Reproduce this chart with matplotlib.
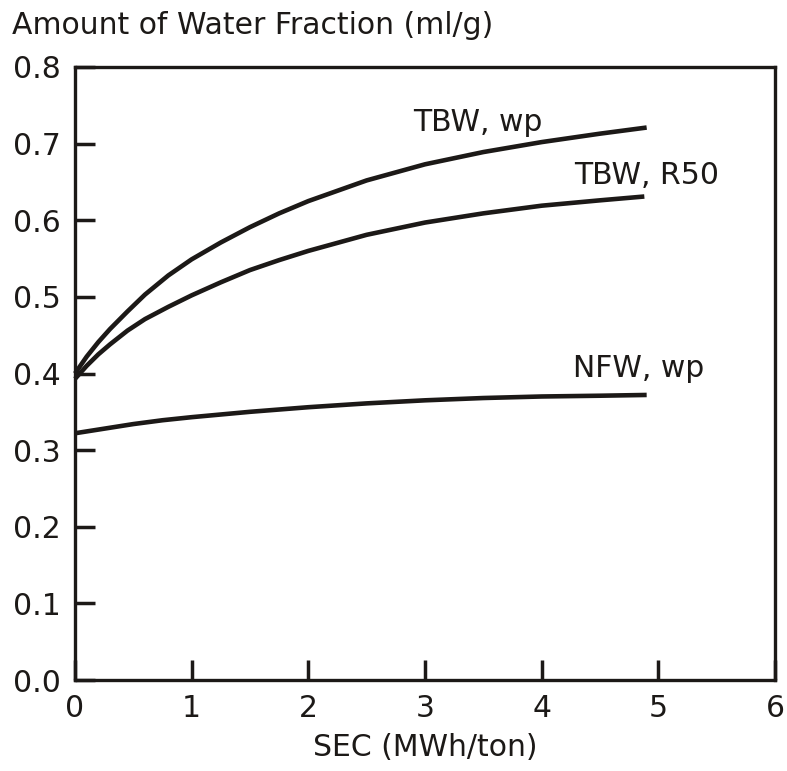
import matplotlib
matplotlib.use("Agg")
import matplotlib.pyplot as plt

# Data
x_tbw_wp = [0, 0.1, 0.2, 0.3, 0.45, 0.6, 0.8, 1.0, 1.25, 1.5, 1.75, 2, 2.5, 3, 3.5, 4, 4.5, 4.9]
y_tbw_wp = [0.400, 0.422, 0.441, 0.458, 0.481, 0.503, 0.528, 0.549, 0.571, 0.591, 0.609,
            0.625, 0.652, 0.673, 0.689, 0.702, 0.713, 0.721]

x_tbw_r50 = [0, 0.1, 0.2, 0.3, 0.45, 0.6, 0.8, 1.0, 1.25, 1.5, 1.75, 2, 2.5, 3, 3.5, 4, 4.5, 4.88]
y_tbw_r50 = [0.393, 0.410, 0.425, 0.438, 0.456, 0.471, 0.487, 0.502, 0.519, 0.535, 0.548,
             0.560, 0.581, 0.597, 0.609, 0.619, 0.626, 0.631]

x_nfw_wp = [0, 0.25, 0.5, 0.75, 1, 1.5, 2, 2.5, 3, 3.5, 4, 4.5, 4.9]
y_nfw_wp = [0.322, 0.328, 0.334, 0.339, 0.343, 0.350, 0.356, 0.361, 0.365, 0.368, 0.370, 0.371, 0.372]

series_labels = ["TBW, wp", "TBW, R50", "NFW, wp"]
x_ticks = [0, 1, 2, 3, 4, 5, 6]
y_ticks = [0.0, 0.1, 0.2, 0.3, 0.4, 0.5, 0.6, 0.7, 0.8]
x_label = "SEC (MWh/ton)"
y_label = "Amount of Water Fraction (ml/g)"

ink = "#1c1917"
plt.rcParams['font.family'] = ['DejaVu Sans']
fs = 21.5

fig = plt.figure(figsize=(7.87, 7.71), dpi=100)
ax = fig.add_axes([75/787, 91/771, 700/787, 613/771])

for xs, ys in [(x_tbw_wp, y_tbw_wp), (x_tbw_r50, y_tbw_r50), (x_nfw_wp, y_nfw_wp)]:
    ax.plot(xs, ys, color=ink, lw=3.3, solid_capstyle='butt', solid_joinstyle='round',
            clip_on=False)

ax.set_xlim(0, 6)
ax.set_ylim(0, 0.8)
ax.set_xticks(x_ticks)
ax.set_xticklabels([str(t) for t in x_ticks])
ax.set_yticks(y_ticks)
ax.set_yticklabels([f"{t:.1f}" for t in y_ticks])
ax.tick_params(direction='in', length=14.5, width=2.5, color=ink, labelcolor=ink,
               labelsize=fs, pad=10)
for s in ax.spines.values():
    s.set_linewidth(2.4)
    s.set_color(ink)

ax.text(2.90, 0.727, series_labels[0], fontsize=fs, color=ink, va='center', ha='left')
ax.text(4.28, 0.659, series_labels[1], fontsize=fs, color=ink, va='center', ha='left')
ax.text(4.27, 0.407, series_labels[2], fontsize=fs, color=ink, va='center', ha='left')

ax.set_xlabel(x_label, fontsize=fs, color=ink, labelpad=7)
fig.text(12/787, 1 - 26/771, y_label, fontsize=fs, color=ink, va='center', ha='left')

fig.savefig("out.png", dpi=100)
